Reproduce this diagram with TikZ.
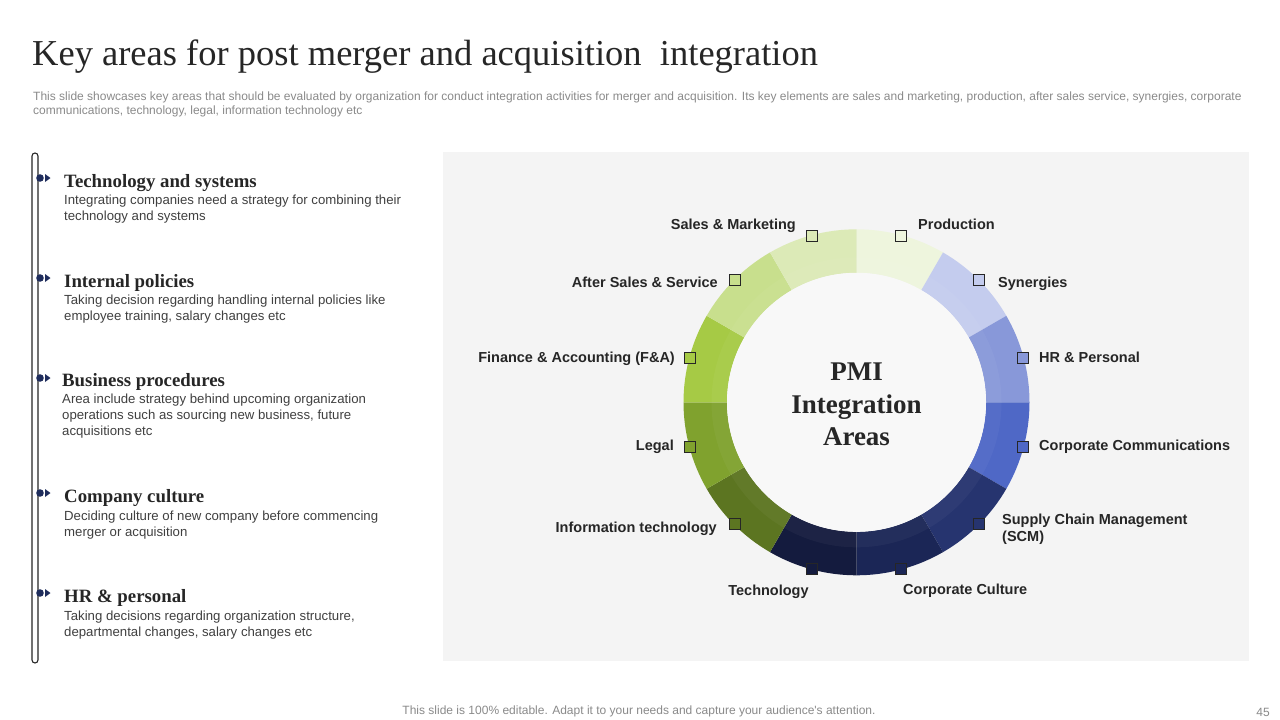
\documentclass[tikz,border=0pt]{standalone}
\usepackage{fontspec}
\setmainfont{Liberation Serif}
\newfontfamily\arialfont{Liberation Sans}
\usetikzlibrary{positioning}
\definecolor{pmiDark}{HTML}{262626}
\definecolor{pmiDesc}{HTML}{404040}
\definecolor{pmiNote}{HTML}{8A8A8A}
\definecolor{pmiNavy}{HTML}{1F2D5C}
\definecolor{pmiPanel}{HTML}{F4F4F4}
\definecolor{pmiInner}{HTML}{F8F8F8}
\definecolor{segProduction}{HTML}{EEF5DD}
\definecolor{segSales}{HTML}{DCEAB7}
\definecolor{segAfter}{HTML}{C8DF8D}
\definecolor{segFinance}{HTML}{A6CA45}
\definecolor{segLegal}{HTML}{80A22E}
\definecolor{segIT}{HTML}{5C7521}
\definecolor{segTech}{HTML}{141B3E}
\definecolor{segCulture}{HTML}{1B2656}
\definecolor{segSCM}{HTML}{26346F}
\definecolor{segComm}{HTML}{4F68C6}
\definecolor{segHR}{HTML}{8898D9}
\definecolor{segSynergy}{HTML}{C4CCEE}

\begin{document}
\begin{tikzpicture}[x=1pt, y=-1pt,
    ringlabel/.style={inner sep=0pt, text=pmiDark, font=\arialfont\bfseries\fontsize{14.5}{17.7}\selectfont},
    marker/.style={draw=pmiDark, line width=0.8pt, minimum size=11pt, inner sep=0pt},
    headtext/.style={anchor=base west, inner sep=0pt, text=pmiDark, font=\bfseries\fontsize{18.8}{22}\selectfont},
    desctext/.style={anchor=north west, inner sep=0pt, align=left, text=pmiDesc, font=\arialfont\fontsize{13.2}{16}\selectfont},
    notetext/.style={inner sep=0pt, text=pmiNote, font=\arialfont\fontsize{12}{14}\selectfont}]
    \useasboundingbox[fill=white] (0,0) rectangle (1280,720);

    % title and note
    \node[anchor=base west, inner sep=0pt, text=pmiDark, font=\fontsize{36.5}{40}\selectfont] (title) at (32,65) {Key areas for post merger and acquisition\ \ integration};
    \node[notetext, anchor=base west] (note1) at (33,100) {This slide showcases key areas that should be evaluated by organization for conduct integration activities for merger and acquisition. Its key elements are sales and marketing, production, after sales service, synergies, corporate};
    \node[notetext, anchor=base west] (note2) at (33,114) {communications, technology, legal, information technology etc};

    % left list
    \draw[pmiDark, line width=1.1pt, rounded corners=3pt] (32,153) rectangle (38,663);
    \foreach \y in {178,278,378,493,593} {
        \fill[pmiNavy] (40,\y) circle (3.8);
        \fill[pmiNavy] (45,\y-4) -- (50.5,\y) -- (45,\y+4) -- cycle;
    }
    \node[headtext] (head1) at (64,187) {Technology and systems};
    \node[desctext] (desc1) at (64,195) {Integrating companies need a strategy for combining their\\technology and systems};
    \node[headtext] (head2) at (64,287) {Internal policies};
    \node[desctext] (desc2) at (64,295) {Taking decision regarding handling internal policies like\\employee training, salary changes etc};
    \node[headtext] (head3) at (62,386) {Business procedures};
    \node[desctext] (desc3) at (62,394) {Area include strategy behind upcoming organization\\operations such as sourcing new business, future\\acquisitions etc};
    \node[headtext] (head4) at (64,502) {Company culture};
    \node[desctext] (desc4) at (64,511) {Deciding culture of new company before commencing\\merger or acquisition};
    \node[headtext] (head5) at (64,602) {HR \& personal};
    \node[desctext] (desc5) at (64,611) {Taking decisions regarding organization structure,\\departmental changes, salary changes etc};

    % ring panel
    \fill[pmiPanel] (443,152) rectangle (1249,661);
    \begin{scope}[shift={(856.5,402.3)}]
        \foreach \a/\col in {60/segProduction, 30/segSynergy, 0/segHR, -30/segComm, -60/segSCM, -90/segCulture,
                             -120/segTech, -150/segIT, 180/segLegal, 150/segFinance, 120/segAfter, 90/segSales}
            \fill[\col] (\a:173pt) arc[start angle=\a, end angle=\a+30, radius=173pt]
                -- ({\a+30}:129.5pt) arc[start angle=\a+30, end angle=\a, radius=129.5pt] -- cycle;
        \fill[white, opacity=0.04, even odd rule] (0,0) circle[radius=145pt] (0,0) circle[radius=129.5pt];
        \fill[pmiInner] (0,0) circle[radius=129.5pt];
        \foreach \a/\col [count=\i] in {60/segProduction, 30/segSynergy, 0/segHR, -30/segComm, -60/segSCM, -90/segCulture,
                             -120/segTech, -150/segIT, 180/segLegal, 150/segFinance, 120/segAfter, 90/segSales}
            \node[marker, fill=\col] (sq\i) at ({\a+15}:172.5pt) {};
    \end{scope}
    \node[align=center, inner sep=0pt, text=pmiDark, font=\bfseries\fontsize{27}{32.5}\selectfont] (centre) at (856.5,404.5) {PMI\\Integration\\Areas};

    \node[ringlabel, anchor=base east] (lblSales) at (796,229) {Sales \& Marketing};
    \node[ringlabel, anchor=base west] (lblProd) at (918,229) {Production};
    \node[ringlabel, anchor=base east] (lblAfter) at (718,287) {After Sales \& Service};
    \node[ringlabel, anchor=base west] (lblSyn) at (998,287) {Synergies};
    \node[ringlabel, anchor=base east] (lblFin) at (675,362.5) {Finance \& Accounting (F\&A)};
    \node[ringlabel, anchor=base west] (lblHR) at (1039,362.5) {HR \& Personal};
    \node[ringlabel, anchor=base east] (lblLegal) at (674,450) {Legal};
    \node[ringlabel, anchor=base west] (lblComm) at (1039,450) {Corporate Communications};
    \node[ringlabel, anchor=base east] (lblIT) at (717,532.5) {Information technology};
    \node[ringlabel, anchor=north west, align=left] (lblSCM) at (1002,513.5) {Supply Chain Management\\(SCM)};
    \node[ringlabel, anchor=base] (lblTech) at (768.5,595) {Technology};
    \node[ringlabel, anchor=base west] (lblCult) at (903,594.5) {Corporate Culture};

    % footer
    \node[notetext, anchor=base] (foot) at (639,714) {This slide is 100\% editable. Adapt it to your needs and capture your audience's attention.};
    \node[notetext, anchor=base] (page) at (1263,716) {45};
\end{tikzpicture}
\end{document}
